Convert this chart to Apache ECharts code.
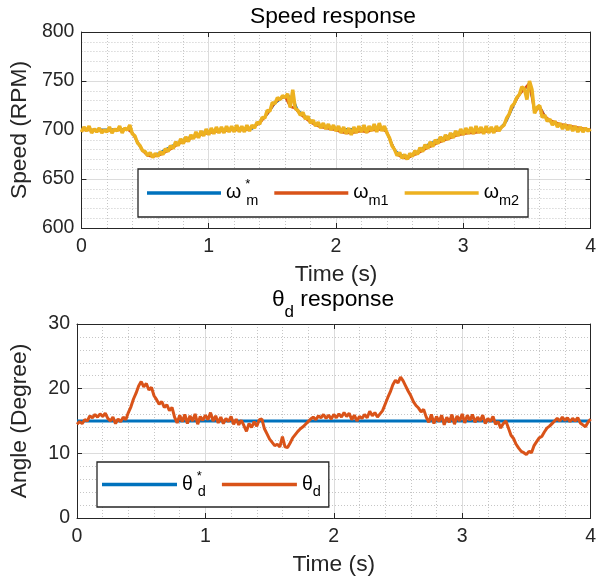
<!DOCTYPE html>
<html><head><meta charset="utf-8">
<script src="https://cdn.jsdelivr.net/npm/echarts@6/dist/echarts.min.js"></script>
<style>html,body{margin:0;padding:0;background:#fff}#c{width:599px;height:584px}</style>
</head><body><div id="c"></div>
<script>
// ---------------- data ----------------
const timeTicks = [0, 1, 2, 3, 4];
const speedTicks = [600, 650, 700, 750, 800];
const angleTicks = [0, 10, 20, 30];

// omega_m2 sampled every 0.02 s from t = 0
const speedM2Step = 0.02;
const speedM2 = [698,703,699,704,697,701,698,702,697,700,
 698,703,697,701,699,704,697,702,700,705,
 696,694,687,684,679,678,674,677,672,676,
 673,678,675,681,678,684,681,688,684,691,
 686,693,688,695,691,698,692,699,694,701,
 695,702,696,703,697,703,697,704,698,704,
 698,705,698,704,698,705,699,705,702,708,
 706,713,712,720,719,728,727,733,731,735,
 733,737,723,741,722,720,715,718,711,714,
 707,710,704,708,702,707,701,706,700,705,
 699,704,697,703,696,702,695,703,697,704,
 698,705,697,704,699,706,698,707,699,704,
 697,692,684,680,674,677,671,675,670,676,
 673,679,675,682,678,685,681,688,683,690,
 686,693,688,695,690,697,692,699,694,701,
 695,702,696,703,696,704,697,703,696,704,
 697,703,697,704,699,703,705,712,716,724,
 727,733,736,744,742,731,750,741,717,723,
 725,713,715,709,711,705,709,703,707,701,
 706,700,705,699,704,698,703,698,702,699,
 701];

// omega_m1 sampled every 0.04 s from t = 0
const speedM1Step = 0.04;
const speedM1 = [700,700,700,699,700,699,700,700,700,701,
 697,688,679,674,673,674,676,679,682,686,
 688,690,693,694,696,697,698,699,699,700,
 700,700,700,701,704,707,713,720,728,732,
 734,724,722,716,712,708,705,703,702,701,
 700,698,697,697,698,699,698,700,700,701,
 698,685,675,672,671,674,676,679,682,684,
 687,689,691,693,695,696,697,697,698,698,
 699,699,700,705,716,727,736,742,748,718,
 724,714,710,708,706,705,704,703,702,701,
 700];

// omega_m* reference
const speedRefTime = [0,0.38,0.42,0.44,0.48,0.52,0.56,0.6,0.7,0.8,0.9,1.0,1.2,1.34,1.4,1.46,1.52,1.58,1.62,1.66,1.7,1.76,1.84,2.0,2.38,2.42,2.46,2.5,2.56,2.64,2.72,2.8,2.9,3.0,3.28,3.34,3.4,3.46,3.52,3.56,3.6,3.66,3.74,3.84,4.0];
const speedRef = [700,701,693,687,679,675,674,676,683,690,695,699,701,701,708,716,727,733,735,733,720,714,706,701,701,692,680,675,673,678,685,690,695,699,701,709,726,742,744,722,724,710,705,702,700];

// theta_d sampled every 0.02 s from t = 0
const thetaStep = 0.02;
const thetaD = [14.5,14.9,14.6,15.2,15.0,15.8,15.5,16.0,15.6,16.1,
 15.7,16.2,15.4,15.0,15.6,14.6,15.3,14.9,15.6,15.2,
 16.3,17.2,18.4,19.3,20.4,21.1,20.3,20.8,19.8,20.2,
 18.9,18.3,17.6,18.0,17.1,17.5,16.6,17.1,15.6,14.7,
 15.9,14.9,16.0,14.6,15.8,15.0,16.1,14.5,15.7,15.1,
 15.9,15.2,16.3,15.0,15.8,14.7,15.6,14.6,15.4,14.9,
 15.7,14.5,15.3,14.4,15.1,14.3,13.4,14.6,14.0,14.9,
 14.2,15.2,15.3,13.8,13.0,12.2,11.7,11.2,11.4,11.0,
 12.6,11.0,10.9,11.6,12.4,12.9,13.4,13.8,14.1,14.5,
 14.9,15.3,15.6,15.2,15.8,15.5,16.0,15.4,15.9,15.3,
 16.0,15.5,16.1,15.6,16.3,15.7,16.2,15.2,15.9,15.0,
 15.7,15.4,16.0,15.5,16.5,15.8,16.3,15.6,16.1,16.6,
 17.6,18.6,19.5,20.6,21.3,20.9,21.8,21.2,20.4,19.6,
 18.9,18.0,17.4,17.0,16.4,16.8,15.6,14.8,16.0,14.6,
 15.7,14.9,15.9,14.4,15.6,14.8,16.0,14.5,15.8,15.0,
 16.1,14.7,15.9,15.1,16.0,14.8,15.6,15.0,15.9,14.6,
 15.4,14.9,15.7,14.5,14.9,13.9,14.6,15.0,13.9,12.8,
 12.3,11.4,10.8,10.3,10.1,9.8,10.3,10.1,11.2,11.8,
 12.4,12.6,13.3,13.9,14.2,14.6,15.0,15.4,15.0,15.6,
 15.1,15.5,14.9,15.4,15.0,15.5,14.7,14.4,14.1,14.8,
 15.3];

// theta_d* reference
const thetaRefTime = [0, 4];
const thetaRef = [15, 15];

// ---------------- chart ----------------
const F = "'Liberation Sans', Arial, Helvetica, sans-serif";
const DARK = '#262626';
const BLUE = '#0072BD', ORANGE = '#D95319', YELLOW = '#EDB120';

function sampled(step, vals) { return vals.map((v, i) => [+(i * step).toFixed(4), v]); }
function paired(ts, vals) { return ts.map((t, i) => [t, vals[i]]); }

function xMain(gi, ticks) {
  return {
    type: 'value', gridIndex: gi, position: 'bottom',
    min: ticks[0], max: ticks[ticks.length - 1], interval: ticks[1] - ticks[0],
    axisLine: { show: true, onZero: false, lineStyle: { color: DARK, width: 1 } },
    axisTick: { show: true, inside: true, length: 5, lineStyle: { color: DARK } },
    axisLabel: { fontSize: 19.5, color: DARK, margin: 9, fontFamily: F },
    splitLine: { show: true, lineStyle: { color: '#dcdcdc', width: 1 } },
    minorTick: { show: false, splitNumber: 5 },
    minorSplitLine: { show: true, lineStyle: { color: '#c6c6c6', width: 1, type: [1, 2] } },
    name: 'Time (s)', nameLocation: 'middle', nameGap: 35,
    nameTextStyle: { fontSize: 22.8, color: DARK, fontFamily: F }
  };
}
function xTop(gi, ticks) {
  return {
    type: 'value', gridIndex: gi, position: 'top',
    min: ticks[0], max: ticks[ticks.length - 1], interval: ticks[1] - ticks[0],
    axisLine: { show: true, onZero: false, lineStyle: { color: DARK, width: 1 } },
    axisTick: { show: true, inside: true, length: 5, lineStyle: { color: DARK } },
    axisLabel: { show: false }, splitLine: { show: false }
  };
}
function yMain(gi, ticks, name) {
  return {
    type: 'value', gridIndex: gi, position: 'left',
    min: ticks[0], max: ticks[ticks.length - 1], interval: ticks[1] - ticks[0],
    axisLine: { show: true, onZero: false, lineStyle: { color: DARK, width: 1 } },
    axisTick: { show: true, inside: true, length: 5, lineStyle: { color: DARK } },
    axisLabel: { fontSize: 19.5, color: DARK, margin: 7, fontFamily: F },
    splitLine: { show: true, lineStyle: { color: '#dcdcdc', width: 1 } },
    minorTick: { show: false, splitNumber: 5 },
    minorSplitLine: { show: true, lineStyle: { color: '#c6c6c6', width: 1, type: [1, 2] } },
    name: name, nameLocation: 'middle', nameGap: 46, nameRotate: 90,
    nameTextStyle: { fontSize: 22.8, color: DARK, fontFamily: F }
  };
}
function yRight(gi, ticks) {
  return {
    type: 'value', gridIndex: gi, position: 'right',
    min: ticks[0], max: ticks[ticks.length - 1], interval: ticks[1] - ticks[0],
    axisLine: { show: true, onZero: false, lineStyle: { color: DARK, width: 1 } },
    axisTick: { show: true, inside: true, length: 5, lineStyle: { color: DARK } },
    axisLabel: { show: false }, splitLine: { show: false }
  };
}

const legendRich = {
  b: { fontSize: 19.5, fontFamily: F, color: '#000', lineHeight: 30 },
  sub: { fontSize: 14.5, fontFamily: F, color: '#000', verticalAlign: 'bottom', lineHeight: 14 },
  sup: { fontSize: 13, fontFamily: F, color: '#000', verticalAlign: 'top', lineHeight: 13, width: 1, padding: [0, 0, 0, 4] }
};
const legendLabels = {
  'ωm*': '{b|ω}{sup|*}{sub|m}',
  'ωm1': '{b|ω}{sub|m1}',
  'ωm2': '{b|ω}{sub|m2}',
  'θd*': '{b|θ}{sup|*}{sub|d}',
  'θd': '{b|θ}{sub|d}'
};

function line(name, xi, yi, data, color, width, z) {
  return {
    name: name, type: 'line', xAxisIndex: xi, yAxisIndex: yi, data: data,
    symbol: 'none', showSymbol: false, animation: false, z: z,
    lineStyle: { color: color, width: width }, itemStyle: { color: color }
  };
}

const legendBase = {
  orient: 'horizontal', icon: 'rect', itemHeight: 3.5, itemGap: 16,
  backgroundColor: '#fff', borderColor: DARK, borderWidth: 1.3, borderRadius: 0,
  formatter: n => legendLabels[n], textStyle: { rich: legendRich }
};

const chart = echarts.init(document.getElementById('c'), null, { renderer: 'canvas' });
chart.setOption({
  backgroundColor: '#fff',
  animation: false,
  title: [
    { text: '{a|Speed response}', left: 333, top: 5, textAlign: 'center', padding: 0,
      textStyle: { fontWeight: 'normal', rich: { a: { fontSize: 22.8, fontFamily: F, color: '#000', fontWeight: 'normal', lineHeight: 24 } } } },
    { text: '{a|θ}{s|d}{a| response}', left: 333, top: 288, textAlign: 'center', padding: 0,
      textStyle: { fontWeight: 'normal', rich: {
        a: { fontSize: 22.8, fontFamily: F, color: '#000', fontWeight: 'normal', lineHeight: 24, verticalAlign: 'top' },
        s: { fontSize: 17, fontFamily: F, color: '#000', fontWeight: 'normal', lineHeight: 33, verticalAlign: 'bottom' } } } }
  ],
  grid: [
    { left: 76, top: 32, width: 516, height: 196 },
    { left: 76, top: 324, width: 516, height: 194 }
  ],
  xAxis: [xMain(0, timeTicks), xMain(1, timeTicks), xTop(0, timeTicks), xTop(1, timeTicks)],
  yAxis: [yMain(0, speedTicks, 'Speed (RPM)'), yMain(1, angleTicks, 'Angle (Degree)'), yRight(0, speedTicks), yRight(1, angleTicks)],
  legend: [
    Object.assign({}, legendBase, { data: ['ωm*', 'ωm1', 'ωm2'], left: 138, top: 169,
      itemWidth: 74, padding: [9, 9, 9, 9] }),
    Object.assign({}, legendBase, { data: ['θd*', 'θd'], left: 97, top: 462,
      itemWidth: 75, padding: [7.5, 8, 7.5, 5] })
  ],
  series: [
    line('ωm*', 0, 0, paired(speedRefTime, speedRef), BLUE, 2, 2),
    line('ωm1', 0, 0, sampled(speedM1Step, speedM1), ORANGE, 2.5, 3),
    line('ωm2', 0, 0, sampled(speedM2Step, speedM2), YELLOW, 3.5, 4),
    line('θd*', 1, 1, paired(thetaRefTime, thetaRef), BLUE, 3, 2),
    line('θd', 1, 1, sampled(thetaStep, thetaD), ORANGE, 3, 3)
  ]
});
</script>
</body></html>
